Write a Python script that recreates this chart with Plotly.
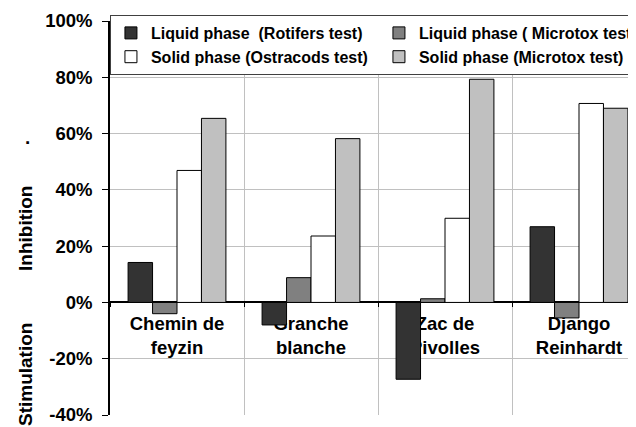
import plotly.graph_objects as go

categories = ["Chemin de<br>feyzin", "Granche<br>blanche", "Zac de<br>Pivolles", "Django<br>Reinhardt"]
series_names = [
    "Liquid phase  (Rotifers test)",
    "Liquid phase ( Microtox test)",
    "Solid phase (Ostracods test)",
    "Solid phase (Microtox test)",
]
liquid_rotifers = [14.2, -8.0, -27.3, 26.9]
liquid_microtox = [-4.0, 8.8, 1.3, -5.5]
solid_ostracods = [46.9, 23.6, 29.9, 70.7]
solid_microtox = [65.4, 58.2, 79.3, 69.0]
series_values = [liquid_rotifers, liquid_microtox, solid_ostracods, solid_microtox]
series_colors = ["#333333", "#808080", "#ffffff", "#c0c0c0"]
y_ticks = [-40, -20, 0, 20, 40, 60, 80, 100]
y_ticktext = ["<b>%d%%</b>" % v for v in y_ticks]

FONT = "Liberation Sans, Arial, sans-serif"

# the page body adds an 8px offset; size the figure so it ends at the window edge
OFF = 8
W, H = 636 - OFF, 427 - OFF
L, R, T, B = 110 - OFF, 0, 21 - OFF, 12
plot_w = W - L - R
plot_h = H - T - B
cat_w = 134.0
x_max = -0.5 + plot_w / cat_w

fig = go.Figure()
for name, vals, col in zip(series_names, series_values, series_colors):
    fig.add_trace(go.Bar(
        x=categories, y=vals, name=name,
        marker=dict(color=col, line=dict(color="#000000", width=1)),
    ))

legend_top_px = 15 - OFF
fig.update_layout(
    width=W, height=H,
    margin=dict(l=L, r=R, t=T, b=B, autoexpand=False),
    paper_bgcolor="white", plot_bgcolor="white",
    barmode="group", bargap=0.27, bargroupgap=0,
    font=dict(family=FONT, size=18, color="#000000"),
    showlegend=True,
    legend=dict(
        orientation="h", x=-0.0001, y=(H - B - legend_top_px) / plot_h,
        xanchor="left", yanchor="top",
        bgcolor="white", bordercolor="#404040", borderwidth=1,
        font=dict(family=FONT, size=16, color="#000000", weight="bold"),
        entrywidth=223, traceorder="normal",
    ),
    xaxis=dict(
        range=[-0.5, x_max], anchor="free", position=40 / 140,
        showline=True, linecolor="#000000", linewidth=2,
        showgrid=True, gridcolor="#c0c0c0", gridwidth=1,
        tickson="boundaries", ticks="outside", ticklen=4, tickcolor="#000000",
        tickfont=dict(family=FONT, size=18.5, color="#000000", weight="bold"),
        ticklabelstandoff=4,
        layer="below traces", fixedrange=True,
    ),
    yaxis=dict(
        range=[-40, 100], tickmode="array", tickvals=y_ticks, ticktext=y_ticktext,
        showline=True, linecolor="#000000", linewidth=1.5,
        showgrid=True, gridcolor="#c0c0c0", gridwidth=1, zeroline=False,
        ticks="outside", ticklen=6, tickwidth=1, tickcolor="#000000",
        tickfont=dict(family=FONT, size=18.5, color="#000000"),
        ticklabelstandoff=6,
    ),
)

for txt, xc, yc, ang in [("Inhibition", 17, 221, -90), ("Stimulation", 17, 367, -90), (".", 19, 129, 0)]:
    fig.add_annotation(
        text=txt, xref="paper", yref="paper",
        x=(xc - L) / plot_w, y=(H - B - yc) / plot_h,
        xanchor="center", yanchor="middle", textangle=ang,
        showarrow=False,
        font=dict(family=FONT, size=19, color="#000000", weight="bold"),
    )

fig.write_html("out.html")
